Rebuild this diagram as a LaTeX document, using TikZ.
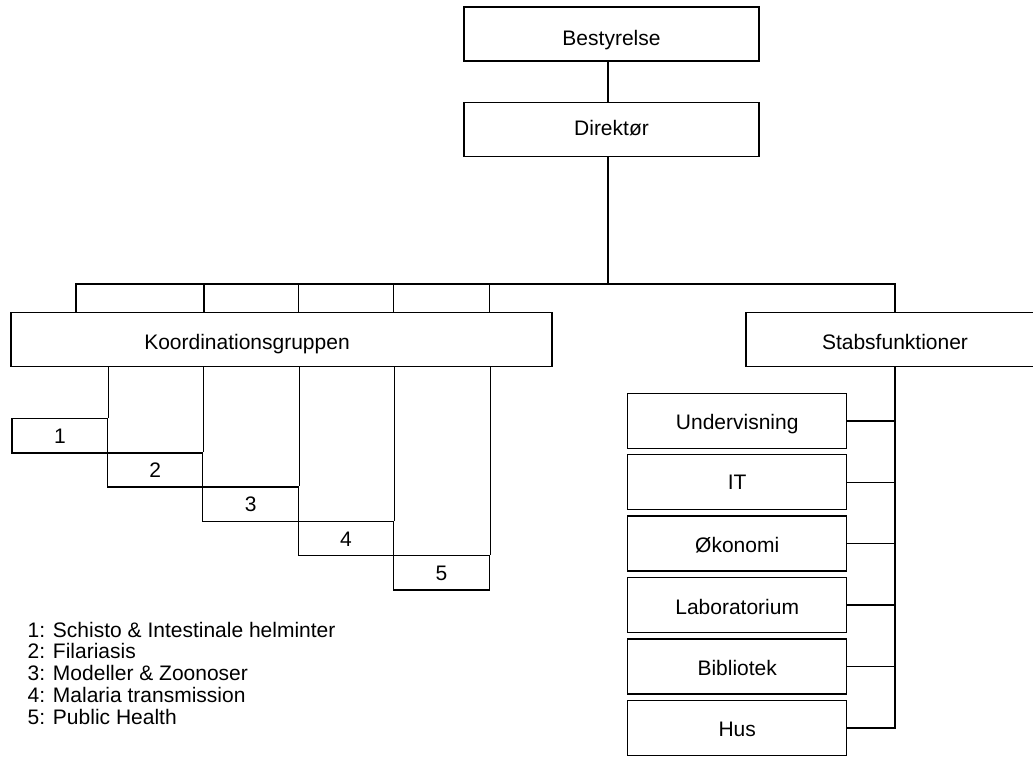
\documentclass[tikz,border=0pt]{standalone}
\usepackage{fontspec}
\setmainfont{Liberation Sans}
\begin{document}
\begin{tikzpicture}[x=1pt,y=-1pt,line width=1.4pt,
  every node/.style={font=\fontsize{21}{25}\selectfont},
  bigbox/.style={draw,rectangle,inner sep=0pt,minimum height=54pt,text height=20pt,text depth=0pt},
  smallbox/.style={draw,rectangle,inner sep=0pt,minimum height=34.3pt,text height=15pt,text depth=0pt},
  unitbox/.style={draw,rectangle,inner sep=0pt,minimum width=219pt,minimum height=55pt,text height=18pt,text depth=0pt},
  plaintext/.style={inner sep=0pt,text height=20pt,text depth=0pt},
  legendline/.style={anchor=base west,inner sep=0pt}]
\useasboundingbox (0,0) rectangle (1033,758);
\fill[white] (0,0) rectangle (1033,758);
\clip (0,0) rectangle (1033,758);

% top
\node[bigbox,minimum width=295pt,text height=24pt] (best) at (611.5,33.8) {Bestyrelse};
\node[bigbox,minimum width=295pt,text height=11pt] (dir) at (611.5,129.7) {Direktør};

% second level
\node[bigbox,minimum width=541pt] (koord) at (281.5,339.7) {};
\node[plaintext] (koordtext) at (247,339.7) {Koordinationsgruppen};
\node[bigbox,minimum width=298pt] (stabs) at (895,339.7) {Stabsfunktioner};

% groups
\node[smallbox,minimum width=95.7pt] (g1) at (59.85,435.65) {1};
\node[smallbox,minimum width=95pt] (g2) at (155.2,469.95) {2};
\node[smallbox,minimum width=95.8pt] (g3) at (250.6,504.25) {3};
\node[smallbox,minimum width=95pt] (g4) at (346,538.55) {4};
\node[smallbox,minimum width=96pt] (g5) at (441.5,572.85) {5};

% staff units
\node[unitbox] (s1) at (737.2,420.8) {Undervisning};
\node[unitbox,text height=14pt] (s2) at (737.2,482.2) {IT};
\node[unitbox] (s3) at (737.2,543.6) {Økonomi};
\node[unitbox] (s4) at (737.2,605.0) {Laboratorium};
\node[unitbox] (s5) at (737.2,666.4) {Bibliotek};
\node[unitbox] (s6) at (737.2,727.8) {Hus};

% legend
\node[legendline] (l1) at (27,637) {1: Schisto \& Intestinale helminter};
\node[legendline] (l2) at (27,658.8) {2: Filariasis};
\node[legendline] (l3) at (27,680.6) {3: Modeller \& Zoonoser};
\node[legendline] (l4) at (27,702.4) {4: Malaria transmission};
\node[legendline] (l5) at (27,724.2) {5: Public Health};

% connectors
\coordinate (spine) at (608,0);
\coordinate (busl) at (76,284);
\coordinate (busr) at (895,284);
\coordinate (t2) at (204,284);
\coordinate (t3) at (298.5,284);
\coordinate (t4) at (393.5,284);
\coordinate (t5) at (489.5,284);

\draw (best.south -| spine) -- (dir.north -| spine);
\draw (dir.south -| spine) -- (spine |- busl);
\draw (koord.north -| busl) -- (busl) -- (busr) -- (stabs.north);
\foreach \t in {t2,t3,t4,t5} \draw (\t) -- (\t |- koord.north);

\foreach \g in {g1,g2,g3,g4,g5} \draw (koord.south -| \g.north east) -- (\g.north east);

\foreach \s in {s1,s2,s3,s4,s5} \draw (\s.east) -- (\s.east -| busr);
\draw (stabs.south) -- (s6.east -| stabs.south) -- (s6.east);
\end{tikzpicture}
\end{document}
